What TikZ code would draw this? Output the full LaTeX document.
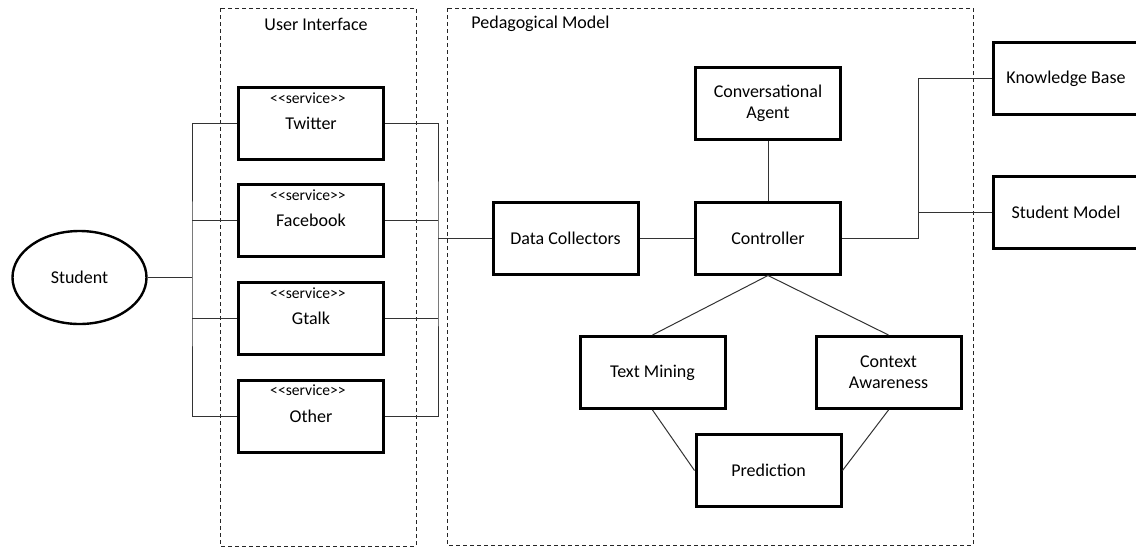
\documentclass[tikz,border=0pt]{standalone}
\usepackage{fontspec}
\newfontfamily\uifont{Carlito}
\usetikzlibrary{shapes}
\usetikzlibrary{positioning}
\tikzset{
    block/.style = {rectangle, line width=1.5pt, draw=black, minimum width=72.5pt, minimum height=36pt, align=center},
    svcbox/.style = {block, label={[svclabel]north:{<<service>>}}},
    svclabel/.style = {anchor=north, inner sep=0pt, yshift=-3pt, xshift=-1.5pt, font=\uifont\fontsize{7.8}{9}\selectfont},
    actor/.style = {ellipse, line width=1.2pt, draw=black, minimum width=67pt, minimum height=46.5pt},
    region/.style = {draw=black!85, line width=0.5pt, dash pattern=on 2pt off 1.5pt},
    edgen/.style = {draw=black!80, line width=0.5pt}, % connector
    every picture/.style={font issue=\uifont\fontsize{9}{10.5}},
    font issue/.style={execute at begin picture={#1\selectfont}
  }
}

\begin{document}
\begin{tikzpicture}[x=0.5pt, y=-0.5pt]
  \useasboundingbox (0,0) rectangle (1136,547);
  % regions
  \draw[region] (220,8) rectangle (416,546);
  \draw[region] (447,8) rectangle (973,545);
  \node (uititle) at (316,24) {User Interface};
  \node[anchor=west] (pmtitle) at (465,24) {Pedagogical Model};
  % student and services
  \node[actor] (student) at (79.5,277.5) {Student};
  \node[svcbox] (twitter) at (311,123.5) {Twitter};
  \node[svcbox] (facebook) at (311,220.5) {Facebook};
  \node[svcbox] (gtalk) at (311,318.5) {Gtalk};
  \node[svcbox] (other) at (311,416) {Other};
  % pedagogical model
  \node[block] (collect) at (565.5,238) {Data Collectors};
  \node[block] (ctrl) at (768,238) {Controller};
  \node[block] (agent) at (768,103) {Conversational\\Agent};
  \node[block] (mining) at (652.5,372.5) {Text Mining};
  \node[block] (context) at (888.5,372.5) {Context\\Awareness};
  \node[block] (predict) at (768.5,470.5) {Prediction};
  % outside
  \node[block] (kb) at (1066,78.5) {Knowledge Base};
  \node[block] (sm) at (1066,212) {Student  Model};
  % buses
  \coordinate (lb) at (192,277.5);
  \coordinate (rb) at (438,238);
  \coordinate (kbus) at (918,238);
  \draw[edgen] (student) -- (lb);
  \draw[edgen] (twitter.west) -| (lb) |- (other.west);
  \draw[edgen] (facebook.west) -- (facebook.west -| lb);
  \draw[edgen] (gtalk.west) -- (gtalk.west -| lb);
  \draw[edgen] (twitter.east) -| (rb) |- (other.east);
  \draw[edgen] (facebook.east) -- (facebook.east -| rb);
  \draw[edgen] (gtalk.east) -- (gtalk.east -| rb);
  \draw[edgen] (rb) -- (collect);
  \draw[edgen] (collect) -- (ctrl);
  \draw[edgen] (agent) -- (ctrl);
  \draw[edgen] (ctrl) -- (kbus) |- (kb.west);
  \draw[edgen] (sm.west) -- (sm.west -| kbus);
  \draw[edgen] (ctrl.south) -- (mining.north);
  \draw[edgen] (ctrl.south) -- (context.north);
  \draw[edgen] (mining.south) -- (predict.west);
  \draw[edgen] (context.south) -- (predict.east);
\end{tikzpicture}
\end{document}
